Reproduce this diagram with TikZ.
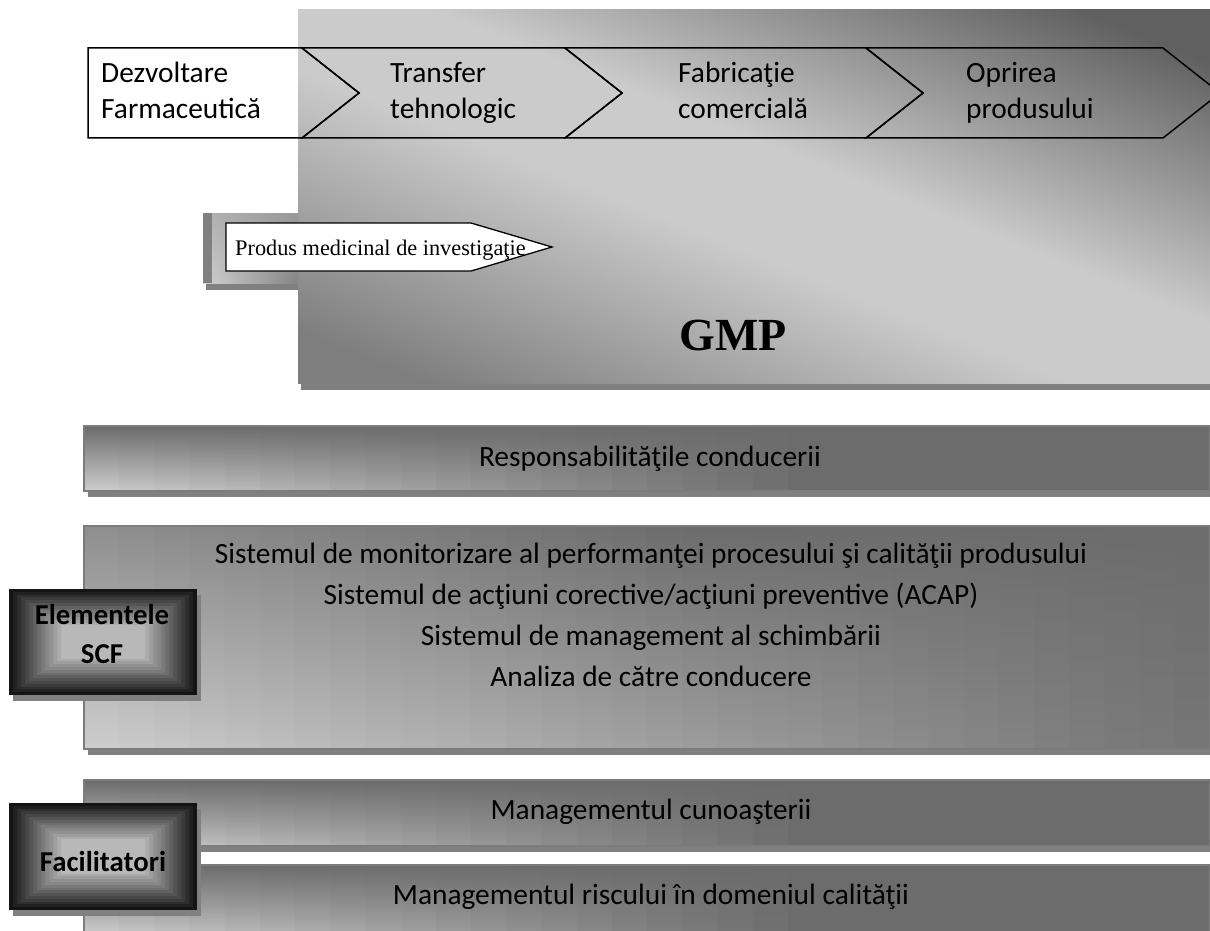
\documentclass[tikz,border=0pt]{standalone}
\usepackage{fontspec}
\setmainfont{Liberation Serif}
\newfontfamily\calibri{Carlito}
\usetikzlibrary{shadings}
\definecolor{shadowgray}{HTML}{808080}
\definecolor{bardark}{HTML}{6C6C6C}
\definecolor{barmid}{HTML}{8E8E8E}
\definecolor{barlight}{HTML}{CDCDCD}
\definecolor{bordergray}{HTML}{7C7C7C}
\definecolor{gA}{HTML}{606060}
\definecolor{gB}{HTML}{CBCBCB}
\definecolor{gC}{HTML}{7E7E7E}
\pgfdeclareverticalshading{gmpshade}{100bp}{color(0bp)=(gC); color(22bp)=(gC); color(45bp)=(gB); color(55bp)=(gB); color(78bp)=(gA); color(100bp)=(gA)}

\tikzset{
  chev/.style={draw=black, line width=1.5pt, line join=miter},
  caltext/.style={font=\calibri\fontsize{29.4}{36}\selectfont, inner sep=0pt},
  calbold/.style={font=\calibri\bfseries\fontsize{28.8}{39}\selectfont, inner sep=0pt},
  bordered/.style={draw=bordergray, line width=1.5pt},
}

% bar with vertical strips: #1 top y, #2 bottom y, #3 fade step bottom, #4 fade step top, #5 top colour at left
\newcommand\gradbar[5]{%
  \fill[shadowgray] (88,#1+6) rectangle (1210,#2+6);
  \fill[bardark] (84,#1) rectangle (1210,#2);
  \foreach \i in {0,...,31}{%
    \pgfmathsetmacro\xa{84+35.2*\i}%
    \pgfmathsetmacro\xb{min(1210,\xa+36.2)}%
    \pgfmathtruncatemacro\pb{max(0,100-#3*\i)}%
    \pgfmathtruncatemacro\pt{max(0,100-#4*\i)}%
    \shade[top color=#5!\pt!bardark, bottom color=barlight!\pb!bardark] (\xa,#1) rectangle (\xb,#2);
  }%
  \draw[bordered] (84,#1) rectangle (1210,#2);
}

% dark framed label box: #1 x1, #2 y1, #3 x2, #4 y2
\newcommand\darkbox[4]{%
  \fill[shadowgray] (#1+4,#2+6) rectangle (#3+4,#4+6);
  \foreach \i in {0,...,13}{%
    \pgfmathtruncatemacro\k{92-4.9*\i}%
    \fill[black!\k] (#1+4*\i,#2+2.8*\i) rectangle (#3-4*\i,#4-2.8*\i);
  }%
}

\begin{document}
\begin{tikzpicture}[x=1pt,y=-1pt]
\useasboundingbox (0,0) rectangle (1210,931);
\fill[white] (0,0) rectangle (1210,931);

% ---------- GMP panel ----------
\fill[shadowgray] (301,16) rectangle (1210,390);
\shade[shading=gmpshade, shading angle=-22] (298,10) rectangle (1210,383);
\node[font=\bfseries\fontsize{46}{46}\selectfont, inner sep=0pt, anchor=base] (gmp) at (733,350) {GMP};

% small shaded square behind the arrow
\fill[shadowgray] (206,219) rectangle (298,290);
\shade[upper left=black!30, upper right=black!40, lower left=black!18, lower right=black!48] (203,213) rectangle (298,283);
\fill[black!50] (203,213) rectangle (212,283);

% arrow
\draw[fill=white, draw=black, line width=1.3pt, line join=miter]
  (226,223) -- (471,223) -- (552,247) -- (471,271) -- (226,271) -- cycle;
\node[font=\fontsize{22.3}{24}\selectfont, inner sep=0pt, anchor=base west] (pmi) at (235,255) {Produs medicinal de investigaţie};

% ---------- chevrons ----------
\begin{scope}
\clip (0,0) rectangle (1210,931);
\draw[chev] (88,48) -- (302,48) -- (359,93) -- (302,138) -- (88,138) -- cycle;
\draw[chev] (302,48) -- (565,48) -- (622,93) -- (565,138) -- (302,138) -- (359,93) -- cycle;
\draw[chev] (565,48) -- (866,48) -- (923,93) -- (866,138) -- (565,138) -- (622,93) -- cycle;
\draw[chev] (866,48) -- (1163,48) -- (1220,93) -- (1163,138) -- (866,138) -- (923,93) -- cycle;
\end{scope}
\node[caltext, anchor=base west] (c1) at (101,83) {\begin{tabular}[t]{@{}l@{}}Dezvoltare\\Farmaceutică\end{tabular}};
\node[caltext, anchor=base west] (c2) at (390,83) {\begin{tabular}[t]{@{}l@{}}Transfer\\tehnologic\end{tabular}};
\node[caltext, anchor=base west] (c3) at (678,83) {\begin{tabular}[t]{@{}l@{}}Fabricaţie\\comercială\end{tabular}};
\node[caltext, anchor=base west] (c4) at (966,83) {\begin{tabular}[t]{@{}l@{}}Oprirea\\produsului\end{tabular}};

% ---------- lower bars ----------
\gradbar{426}{491}{5}{0}{bardark}
\node[caltext, anchor=base] (resp) at (650,466) {Responsabilităţile conducerii};

\gradbar{526}{749}{2.9}{6}{barmid}
\node[caltext, anchor=base] (scf) at (651,563) {\fontsize{29.4}{41}\selectfont\begin{tabular}[t]{@{}c@{}}Sistemul de monitorizare al performanţei procesului şi calităţii produsului\\Sistemul de acţiuni corective/acţiuni preventive (ACAP)\\Sistemul de management al schimbării\\Analiza de către conducere\end{tabular}};

\gradbar{780}{846}{5}{0}{bardark}
\node[caltext, anchor=base] (know) at (651,819) {Managementul cunoaşterii};

\gradbar{865}{935}{5}{0}{bardark}
\node[caltext, anchor=base] (risk) at (651,904) {Managementul riscului în domeniul calităţii};

% ---------- dark label boxes ----------
\darkbox{9}{589}{197}{695}
\node[calbold, anchor=base] (elem) at (102,624) {\begin{tabular}[t]{@{}c@{}}Elementele\\SCF\end{tabular}};

\darkbox{9}{803}{197}{910}
\node[calbold, anchor=base] (fac) at (103,871) {Facilitatori};
\end{tikzpicture}
\end{document}
